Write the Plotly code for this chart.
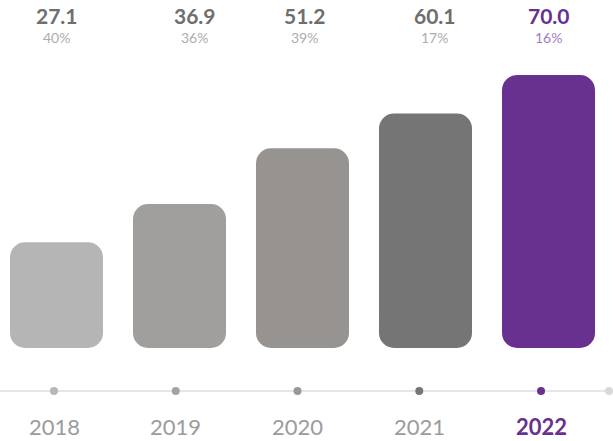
import plotly.graph_objects as go

# Data
years = ["2018", "2019", "2020", "2021", "2022"]
revenue = [27.1, 36.9, 51.2, 60.1, 70.0]
growth = ["40%", "36%", "39%", "17%", "16%"]

# Styling
bar_colors = ["#b5b5b5", "#a09f9e", "#979391", "#757575", "#68308f"]
dot_colors = ["#b7b7b7", "#a3a3a3", "#9a9796", "#767676", "#68308f"]
value_colors = ["#6e6e6e"] * 4 + ["#68308f"]
pct_colors = ["#adadad"] * 4 + ["#a47cc2"]
year_colors = ["#9b9b9b"] * 4 + ["#68308f"]
label_shift = [0, 15, 2, 9, 0]
FONT = "Lato"

W, H = 613, 441
idx = list(range(len(years)))
PX_PER_CAT = 123.0          # horizontal pixels per category (keeps bar edges on whole pixels)
BAR_W = 93.0 / PX_PER_CAT
RADIUS = 15                 # corner radius in pixels

y_range = [-23.85, 89.23]
px_per_unit = H / (y_range[1] - y_range[0])
r_units = (RADIUS + 1) / px_per_unit

fig = go.Figure()

# Plotly only rounds the tip of a bar, so each bar is built from two overlapping pieces:
# one grows downward to zero (rounded bottom), the other grows upward to the value (rounded top).
# They overlap everywhere except the corner zones.
lower_base = [v - r_units for v in revenue]
lower_len = [-(v - r_units) for v in revenue]
upper_base = [r_units for _ in revenue]
upper_len = [v - r_units for v in revenue]

fig.add_trace(go.Bar(
    x=idx, y=lower_len, base=lower_base, width=BAR_W,
    marker=dict(color=bar_colors, line=dict(width=0), cornerradius=RADIUS),
    hoverinfo="skip", showlegend=False,
))
fig.add_trace(go.Bar(
    x=idx, y=upper_len, base=upper_base, width=BAR_W,
    marker=dict(color=bar_colors, line=dict(width=0), cornerradius=RADIUS),
    customdata=revenue, hovertemplate="%{customdata}<extra></extra>",
    showlegend=False,
))

# Timeline under the bars
x2_range = [-0.4435, 4.591]
tail = len(years) - 0.442
TL_Y = 0.1134
fig.add_trace(go.Scatter(
    x=[x2_range[0], tail], y=[TL_Y, TL_Y], xaxis="x2", yaxis="y2",
    mode="lines", line=dict(color="#e6e6e6", width=2),
    hoverinfo="skip", showlegend=False,
))
fig.add_trace(go.Scatter(
    x=idx + [tail], y=[TL_Y] * (len(years) + 1), xaxis="x2", yaxis="y2",
    mode="markers", marker=dict(size=8, color=dot_colors + ["#d9d9d9"], line=dict(width=0)),
    hoverinfo="skip", showlegend=False,
))

annotations = []
for i, (v, g) in enumerate(zip(revenue, growth)):
    annotations.append(dict(
        x=i, y=0.965, xref="x", yref="paper", xshift=label_shift[i],
        text=f"<b>{v:.1f}</b>", showarrow=False, xanchor="center", yanchor="middle",
        font=dict(family=FONT, size=21, color=value_colors[i]),
    ))
    annotations.append(dict(
        x=i, y=0.916, xref="x", yref="paper", xshift=label_shift[i],
        text=g, showarrow=False, xanchor="center", yanchor="middle",
        font=dict(family=FONT, size=14, color=pct_colors[i]),
    ))
for i, yr in enumerate(years):
    txt = f"<b>{yr}</b>" if i == len(years) - 1 else yr
    annotations.append(dict(
        x=i, y=0.034, xref="x2", yref="paper",
        text=txt, showarrow=False, xanchor="center", yanchor="middle",
        font=dict(family=FONT, size=22, color=year_colors[i]),
    ))

x_start = -56.5 / PX_PER_CAT
x_end = x_start + W / PX_PER_CAT

fig.update_layout(
    width=W, height=H,
    margin=dict(l=0, r=0, t=0, b=0),
    paper_bgcolor="white", plot_bgcolor="white",
    barmode="overlay",
    xaxis=dict(range=[x_start, x_end], visible=False, fixedrange=True),
    yaxis=dict(range=y_range, visible=False, fixedrange=True),
    xaxis2=dict(range=x2_range, overlaying="x", visible=False, fixedrange=True),
    yaxis2=dict(range=[0, 1], overlaying="y", visible=False, fixedrange=True),
    annotations=annotations,
    font=dict(family=FONT),
)

fig.write_html("out.html")
